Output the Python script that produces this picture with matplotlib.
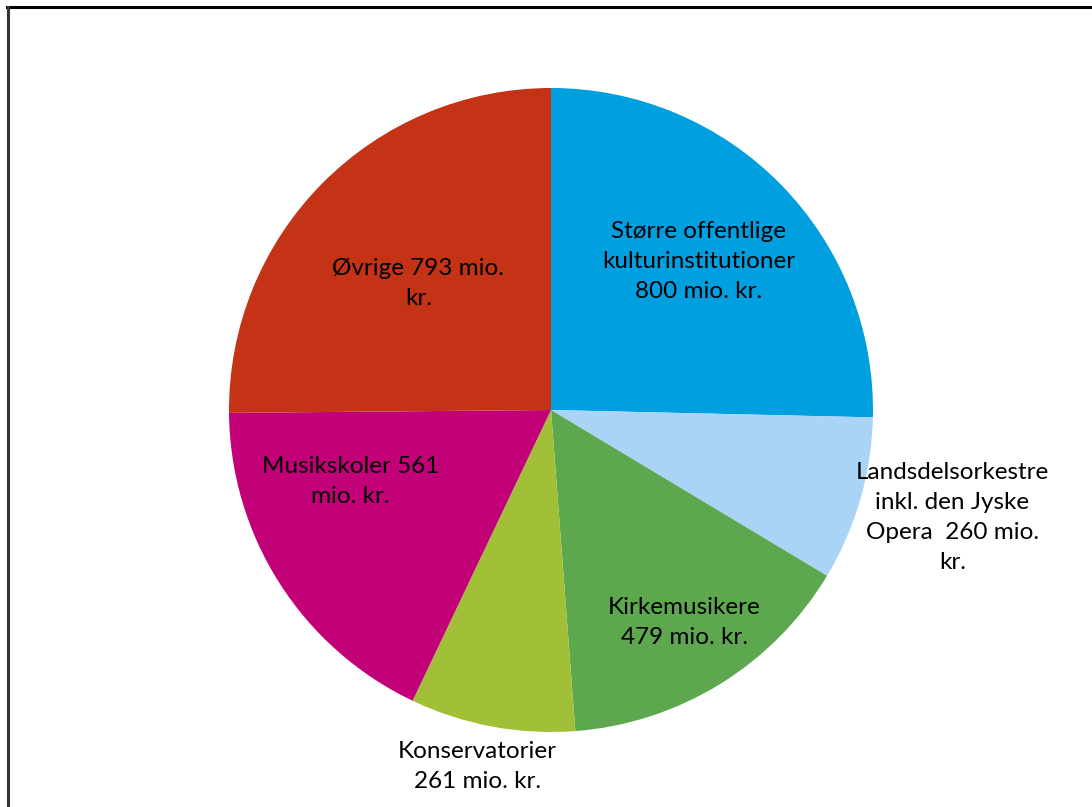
import matplotlib
matplotlib.use("Agg")
import matplotlib.pyplot as plt
from matplotlib.lines import Line2D
import numpy as np

categories = ["Større offentlige\nkulturinstitutioner\n800 mio. kr.",
              "Landsdelsorkestre\ninkl. den Jyske\nOpera  260 mio.\nkr.",
              "Kirkemusikere\n479 mio. kr.",
              "Konservatorier\n261 mio. kr.",
              "Musikskoler 561\nmio. kr.",
              "Øvrige 793 mio.\nkr."]
values = [800, 260, 479, 261, 561, 793]
colors = ["#009FE0", "#A9D4F5", "#5DA84F", "#A2C037", "#C20078", "#C43316"]
# label placement (radial fraction, angle shift in degrees) – style only
label_r = [0.65, 1.29, 0.78, 1.13, 0.66, 0.57]
label_da = [0.9, 1.2, 0.4, -1.1, -13.0, 1.0]

W, H = 1092, 807
fig = plt.figure(figsize=(W / 100, H / 100), dpi=100)
ax = fig.add_axes([0, 0, 1, 1])
cx, cy, R = 551, H - 410, 322
wedges, _ = ax.pie(values, colors=colors, startangle=90, counterclock=False,
                   center=(cx, cy), radius=R, wedgeprops=dict(linewidth=0))
ax.set_xlim(0, W)
ax.set_ylim(0, H)
ax.set_aspect("equal")
ax.axis("off")

for w, lab, rf, da in zip(wedges, categories, label_r, label_da):
    mid = np.deg2rad((w.theta1 + w.theta2) / 2 + da)
    x = cx + rf * R * np.cos(mid)
    y = cy + rf * R * np.sin(mid)
    ax.text(x, y, lab, ha="center", va="center", fontsize=17.5,
            family=["Lato", "DejaVu Sans"], color="black", linespacing=1.53)

fig.add_artist(Line2D([7 / W, 1.0], [1 - 7 / H, 1 - 7 / H], transform=fig.transFigure,
                      color="black", linewidth=2.2))
fig.add_artist(Line2D([7.5 / W, 7.5 / W], [0, 1 - 7 / H], transform=fig.transFigure,
                      color="#333333", linewidth=2.2))

fig.savefig("out.png", dpi=100, facecolor="white")
